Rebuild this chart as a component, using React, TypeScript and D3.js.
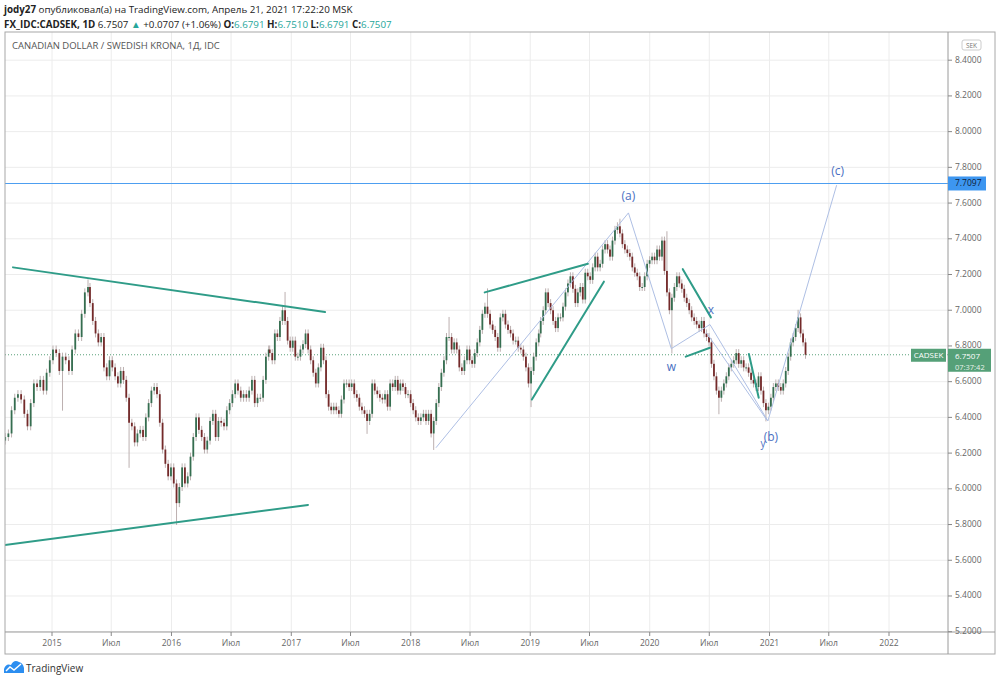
import React from 'react';
import * as d3 from 'd3';

// closes, split in stretches with their own start / end dates
const closesAug2014Apr2015 = [6.29, 6.31, 6.44, 6.51, 6.53, 6.50, 6.42, 6.35, 6.48, 6.59, 6.57, 6.61, 6.55, 6.65, 6.72, 6.78, 6.76, 6.66, 6.74, 6.72, 6.66, 6.78, 6.87, 6.85, 6.98, 7.10, 7.13];
const closesApr2015Oct2016 = [7.04, 6.94, 6.87, 6.82, 6.85, 6.68, 6.63, 6.72, 6.68, 6.63, 6.59, 6.66, 6.61, 6.51, 6.37, 6.35, 6.26, 6.31, 6.33, 6.29, 6.40, 6.48, 6.55, 6.57, 6.53, 6.37, 6.22, 6.14, 6.07, 6.12, 6.03, 5.92, 6.01, 6.12, 6.03, 6.07, 6.18, 6.29, 6.40, 6.33, 6.29, 6.22, 6.27, 6.38, 6.42, 6.29, 6.38, 6.37, 6.35, 6.44, 6.48, 6.53, 6.59, 6.55, 6.51, 6.53, 6.51, 6.55, 6.61, 6.48, 6.51, 6.51, 6.61, 6.74, 6.78];
const closesOct2016Jan2019 = [6.76, 6.72, 6.87, 6.85, 6.94, 7.00, 6.94, 6.83, 6.79, 6.83, 6.74, 6.74, 6.78, 6.81, 6.87, 6.78, 6.72, 6.65, 6.59, 6.68, 6.79, 6.72, 6.53, 6.46, 6.44, 6.46, 6.44, 6.42, 6.50, 6.59, 6.59, 6.57, 6.59, 6.53, 6.51, 6.46, 6.44, 6.42, 6.38, 6.42, 6.59, 6.55, 6.53, 6.51, 6.50, 6.53, 6.46, 6.59, 6.57, 6.61, 6.55, 6.59, 6.57, 6.53, 6.53, 6.48, 6.44, 6.40, 6.38, 6.40, 6.42, 6.38, 6.42, 6.31, 6.38, 6.48, 6.57, 6.65, 6.72, 6.85, 6.85, 6.78, 6.82, 6.78, 6.68, 6.66, 6.72, 6.78, 6.72, 6.70, 6.76, 6.82, 6.89, 6.98, 7.02, 6.98, 6.92, 6.89, 6.85, 6.79, 6.96, 6.98, 6.92, 6.89, 6.87, 6.83, 6.83, 6.79, 6.78, 6.74, 6.68, 6.59, 6.66, 6.74, 6.82, 6.87];
const closesFeb2019Apr2021 = [6.94, 7.00, 7.10, 7.04, 7.00, 6.94, 6.90, 6.96, 6.96, 7.02, 7.10, 7.15, 7.19, 7.12, 7.04, 7.10, 7.13, 7.06, 7.21, 7.19, 7.17, 7.24, 7.30, 7.24, 7.26, 7.34, 7.37, 7.34, 7.30, 7.39, 7.45, 7.47, 7.43, 7.37, 7.34, 7.32, 7.30, 7.24, 7.21, 7.19, 7.13, 7.13, 7.19, 7.26, 7.28, 7.30, 7.28, 7.34, 7.30, 7.39, 7.22, 7.10, 7.00, 7.07, 7.13, 7.19, 7.15, 7.12, 7.07, 7.04, 7.00, 6.96, 6.94, 6.92, 6.90, 6.94, 6.87, 6.85, 6.82, 6.70, 6.63, 6.55, 6.51, 6.55, 6.59, 6.63, 6.68, 6.70, 6.72, 6.76, 6.70, 6.72, 6.68, 6.68, 6.65, 6.61, 6.59, 6.57, 6.63, 6.55, 6.48, 6.44, 6.46, 6.51, 6.57, 6.59, 6.57, 6.55, 6.59, 6.66, 6.74, 6.82, 6.85, 6.90, 6.96, 6.87, 6.82, 6.7507];

const firstOpen = 6.27;
const segments = [
  { from: '2014-08-11', to: '2015-04-21', closes: closesAug2014Apr2015 },
  { from: '2015-04-27', to: '2016-10-24', closes: closesApr2015Oct2016 },
  { from: '2016-10-27', to: '2019-01-27', closes: closesOct2016Jan2019 },
  { from: '2019-02-02', to: '2021-04-21', closes: closesFeb2019Apr2021 },
];

// long wicks that stick out of the band
const wickHighs: [string, number][] = [
  ['2015-04-21', 7.15], ['2016-12-10', 7.08], ['2018-05-01', 6.94], ['2018-08-21', 7.10],
  ['2019-10-05', 7.49], ['2020-02-19', 7.42], ['2021-03-28', 6.98],
];
const wickLows: [string, number][] = [
  ['2015-01-31', 6.46], ['2015-08-24', 6.14], ['2016-01-15', 5.82], ['2017-08-23', 6.33],
  ['2018-03-13', 6.24], ['2019-01-02', 6.48], ['2020-03-07', 6.78], ['2020-07-27', 6.44],
  ['2020-12-21', 6.40],
];

// drawings
const trendLines: [string, number, string, number][] = [
  ['2014-09-04', 7.24, '2017-04-14', 6.99],
  ['2014-08-10', 5.685, '2017-02-21', 5.91],
  ['2018-08-15', 7.10, '2019-06-26', 7.26],
  ['2019-01-06', 6.50, '2019-08-14', 7.16],
  ['2020-04-11', 7.23, '2020-07-06', 6.96],
  ['2020-04-20', 6.74, '2020-07-03', 6.79],
  ['2020-10-30', 6.755, '2020-11-29', 6.51],
];
const wavePoints: [string, number][] = [
  ['2018-03-19', 6.23], ['2019-10-28', 7.545], ['2020-03-07', 6.785],
  ['2020-07-03', 6.92], ['2020-12-27', 6.38], ['2021-07-25', 7.70],
];
const extraWaveLine: [string, number, string, number] = ['2020-06-22', 6.875, '2020-12-24', 6.385];
const waveLabels: [string, number, number, number][] = [
  // text, wave point index, dx, dy
  ['(a)', 1, 0, -13],
  ['w', 2, 0, 22],
  ['x', 3, 1, -11],
  ['(b)', 4, 3, 20],
  ['(c)', 5, 1, -10],
];

const hLinePrice = 7.7097;
const lastPrice = 6.7507;

const parse = d3.timeParse('%Y-%m-%d');
const d = (s: string) => parse(s) as Date;

const W = 1000;
const H = 682;
const left = 5, top = 32, axisX = 948, axisY = 632, outerRight = 995, outerBottom = 654;

const x = d3.scaleTime().domain([d('2015-01-01'), d('2022-01-01')]).range([52, 889]);
const y = d3.scaleLinear().domain([5.2, 8.4]).range([631.7, 60.2]);

type Candle = { date: Date; open: number; close: number; high: number; low: number };
const candles: Candle[] = [];
{
  let prev = firstOpen;
  segments.forEach(seg => {
    const t = d3.scaleLinear().domain([0, seg.closes.length - 1]).range([+d(seg.from), +d(seg.to)]);
    seg.closes.forEach((c, i) => {
      candles.push({ date: new Date(t(i)), open: prev, close: c, high: Math.max(prev, c), low: Math.min(prev, c) });
      prev = c;
    });
  });
  const nearest = (s: string) => {
    const t = +d(s);
    return d3.minIndex(candles, c => Math.abs(+c.date - t));
  };
  wickHighs.forEach(([s, v]) => { const k = nearest(s); candles[k].high = Math.max(candles[k].high, v); });
  wickLows.forEach(([s, v]) => { const k = nearest(s); candles[k].low = Math.min(candles[k].low, v); });
}

const upColor = '#356e50';
const downColor = '#742a2a';
const teal = '#2f9c88';
const waveBlue = '#aebfe4';
const labelBlue = '#4a70c2';
const font = '"Open Sans", sans-serif';

const priceTicks = y.ticks(16);
const timeTicks = d3.timeMonth.every(6)!.range(x.invert(left), x.invert(axisX));
const fmt = d3.format('.4f');

export default function App() {
  const wp = wavePoints.map(([s, v]) => [x(d(s)), y(v)] as [number, number]);
  const yl = y(lastPrice);
  return (
    <div style={{ position: 'absolute', left: 0, top: 0 }}>
      <svg width={W} height={H} style={{ display: 'block', background: '#fff', fontFamily: font }}>
        <defs>
          <clipPath id="plot"><rect x={left} y={top} width={axisX - left} height={axisY - top} /></clipPath>
          <clipPath id="taxis"><rect x={left} y={axisY} width={axisX - left} height={outerBottom - axisY} /></clipPath>
        </defs>

        {/* header */}
        <text x={4} y={13} fontSize={9.8} fill="#222">
          <tspan fontWeight="bold">jody27</tspan>
          <tspan> опубликовал(а) на TradingView.com, Апрель 21, 2021 17:22:20 MSK</tspan>
        </text>
        <text x={4} y={28} fontSize={9.8} fill="#222">
          <tspan fontWeight="bold">FX_IDC:CADSEK, 1D</tspan>
          <tspan> 6.7507 </tspan>
          <tspan fill="#26a69a">▲</tspan>
          <tspan> +0.0707 (+1.06%) </tspan>
          <tspan fontWeight="bold">O:</tspan><tspan fill="#26a69a">6.6791 </tspan>
          <tspan fontWeight="bold">H:</tspan><tspan fill="#26a69a">6.7510 </tspan>
          <tspan fontWeight="bold">L:</tspan><tspan fill="#26a69a">6.6791 </tspan>
          <tspan fontWeight="bold">C:</tspan><tspan fill="#26a69a">6.7507</tspan>
        </text>

        {/* grid */}
        <g clipPath="url(#plot)">
          {priceTicks.map(p => (
            <line key={'h' + p} x1={left} x2={axisX} y1={y(p)} y2={y(p)} stroke="#ececec" />
          ))}
          {timeTicks.map(t => (
            <line key={'v' + +t} x1={x(t)} x2={x(t)} y1={top} y2={axisY} stroke="#ececec" />
          ))}
        </g>

        <text x={12} y={49} fontSize={9.5} fill="#555">CANADIAN DOLLAR / SWEDISH KRONA, 1Д, IDC</text>

        <g clipPath="url(#plot)">
          {/* last price dotted line */}
          <line x1={left} x2={axisX} y1={yl} y2={yl} stroke="#5aa07a" strokeDasharray="1 2" />
          {/* horizontal level */}
          <line x1={left} x2={axisX} y1={Math.round(y(hLinePrice)) + 0.5} y2={Math.round(y(hLinePrice)) + 0.5} stroke="#4d9ef0" />

          {/* candles */}
          {candles.map((c, i) => {
            const cx = x(c.date);
            const col = c.close >= c.open ? upColor : downColor;
            const y0 = y(Math.max(c.open, c.close));
            const y1 = y(Math.min(c.open, c.close));
            return (
              <g key={i}>
                <line x1={cx} x2={cx} y1={y(c.high) - 4} y2={y(c.low) + 4} stroke="#bcb0b0" strokeWidth={1} />
                <rect x={cx - 0.9} y={y0} width={1.8} height={Math.max(1, y1 - y0)} fill={col} />
              </g>
            );
          })}

          {/* wave lines */}
          <path d={d3.line()(wp) || ''} fill="none" stroke={waveBlue} strokeWidth={1} />
          <line x1={x(d(extraWaveLine[0]))} y1={y(extraWaveLine[1])} x2={x(d(extraWaveLine[2]))} y2={y(extraWaveLine[3])} stroke={waveBlue} />

          {/* trend lines */}
          {trendLines.map(([s0, v0, s1, v1], i) => (
            <line key={'t' + i} x1={x(d(s0))} y1={y(v0)} x2={x(d(s1))} y2={y(v1)} stroke={teal} strokeWidth={2} strokeLinecap="round" />
          ))}

          {waveLabels.map(([txt, k, dx, dy]) => (
            <text key={txt} x={wp[k][0] + dx} y={wp[k][1] + dy} textAnchor="middle" fontSize={12} fill={labelBlue}>{txt}</text>
          ))}
          <text x={wp[4][0] - 5} y={wp[4][1] + 26} textAnchor="middle" fontSize={10} fill={labelBlue}>y</text>
        </g>

        {/* frame */}
        <rect x={left} y={top} width={outerRight - left} height={outerBottom - top} fill="none" stroke="#a8a8a8" />
        <line x1={axisX} x2={axisX} y1={top} y2={outerBottom} stroke="#9a9a9a" />
        <line x1={left} x2={outerRight} y1={axisY} y2={axisY} stroke="#9a9a9a" />

        {/* price axis */}
        {priceTicks.map(p => (
          <g key={'p' + p}>
            <line x1={axisX} x2={axisX + 4} y1={y(p)} y2={y(p)} stroke="#888" />
            <text x={955} y={y(p) + 2.5} fontSize={8.5} fill="#666">{fmt(p)}</text>
          </g>
        ))}
        <rect x={962} y={40} width={19} height={10} rx={2} fill="#fff" stroke="#ccc" />
        <text x={971.5} y={47.5} fontSize={6.5} textAnchor="middle" fill="#777">SEK</text>

        <rect x={axisX} y={y(hLinePrice) - 7} width={38} height={14} fill="#3d96f0" />
        <text x={955} y={y(hLinePrice) + 3} fontSize={8.5} fill="#10203a">{fmt(hLinePrice)}</text>

        <rect x={911} y={yl - 6} width={35} height={13} fill="#55a078" />
        <text x={928.5} y={yl + 3.5} fontSize={8} textAnchor="middle" fill="#fff">CADSEK</text>
        <rect x={axisX} y={yl - 6} width={43} height={23} fill="#55a078" />
        <text x={955} y={yl + 4.5} fontSize={8} fill="#fff">{fmt(lastPrice)}</text>
        <text x={955} y={yl + 15} fontSize={7.5} fill="#e6f2ea">07:37:42</text>

        {/* time axis */}
        <g clipPath="url(#taxis)">
          {timeTicks.map(t => (
            <g key={'tt' + +t}>
              <line x1={x(t)} x2={x(t)} y1={axisY} y2={axisY + 4} stroke="#888" />
              <text x={x(t)} y={646} fontSize={8.5} textAnchor="middle" fill="#666">
                {t.getMonth() === 0 ? t.getFullYear() : 'Июл'}
              </text>
            </g>
          ))}
        </g>

        {/* logo */}
        <path d="M4,673 L4,669 Q6,663 11,665 Q14,659 19,662 Q23,663 24,668 L24,673 Z" fill="#2c8ef0" />
        <polyline points="6,671 10,667 14,670 21,664" fill="none" stroke="#fff" strokeWidth={1.4} />
        <text x={26} y={672} fontSize={10} fill="#333">TradingView</text>
      </svg>
    </div>
  );
}
